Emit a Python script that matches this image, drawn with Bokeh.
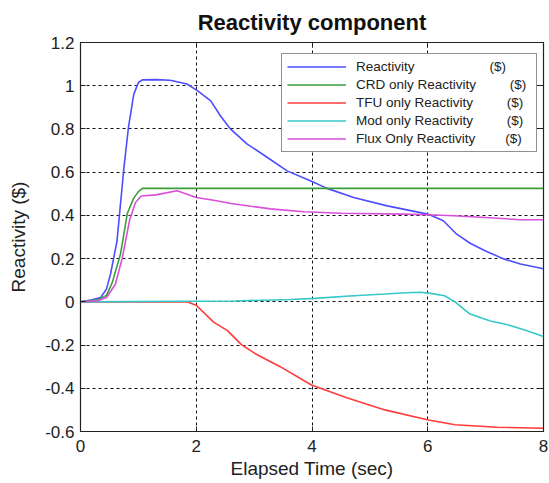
from bokeh.plotting import figure
from bokeh.models import (Range1d, FixedTicker, LinearAxis, Legend, LegendItem,
                          CustomJSTickFormatter)
from bokeh.embed import file_html
from bokeh.resources import INLINE

# ---- data ----
t_react = [0, 0.2, 0.35, 0.45, 0.52, 0.63, 0.75, 0.83, 0.92, 1.0, 1.07, 1.3, 1.55,
           1.84, 2.02, 2.25, 2.42, 2.59, 2.88, 3.23, 3.57, 4.0, 4.26, 4.72, 5.3,
           6.0, 6.27, 6.5, 6.74, 7.0, 7.3, 7.6, 8.0]
reactivity = [0, 0.01, 0.02, 0.06, 0.13, 0.28, 0.62, 0.81, 0.96, 1.015, 1.027, 1.028,
              1.025, 1.008, 0.977, 0.93, 0.86, 0.80, 0.73, 0.668, 0.606, 0.557, 0.525,
              0.483, 0.444, 0.406, 0.375, 0.313, 0.27, 0.235, 0.2, 0.175, 0.153]

t_crd = [0, 0.3, 0.45, 0.55, 0.69, 0.81, 0.92, 1.0, 1.07, 8.0]
crd = [0, 0.01, 0.03, 0.09, 0.22, 0.41, 0.48, 0.51, 0.525, 0.525]

t_tfu = [0, 1.84, 2.0, 2.3, 2.54, 2.78, 3.02, 3.45, 3.99, 4.6, 5.26, 5.99, 6.47, 7.2, 8.0]
tfu = [0, 0, -0.016, -0.094, -0.133, -0.198, -0.24, -0.30, -0.385, -0.444, -0.50,
       -0.546, -0.569, -0.58, -0.585]

t_mod = [0, 2.66, 3.63, 4.05, 4.72, 5.26, 5.63, 5.87, 6.05, 6.29, 6.47, 6.72, 7.08,
         7.38, 7.69, 8.0]
mod = [0, 0.004, 0.011, 0.016, 0.028, 0.036, 0.042, 0.044, 0.039, 0.028, 0.0,
       -0.055, -0.089, -0.106, -0.132, -0.16]

t_flux = [0, 0.3, 0.45, 0.6, 0.72, 0.85, 0.95, 1.05, 1.3, 1.67, 2.0, 2.3, 2.6, 3.28,
          3.86, 4.5, 5.58, 6.0, 6.45, 7.0, 7.6, 8.0]
flux = [0, 0.005, 0.02, 0.08, 0.2, 0.38, 0.46, 0.49, 0.495, 0.514, 0.483, 0.47, 0.455,
        0.43, 0.417, 0.41, 0.406, 0.403, 0.398, 0.39, 0.38, 0.38]

series_names = ["Reactivity", "CRD only Reactivity", "TFU only Reactivity",
                "Mod only Reactivity", "Flux Only Reactivity"]
series_colors = ["#4d4dff", "#3a9e3a", "#ff3b3b", "#36c8c8", "#d94fd9"]
unit_text = "($)"
unit_gap = [20, 9, 9, 9, 8]   # non-breaking spaces between name and unit

x_ticks = [0, 2, 4, 6, 8]
y_ticks = [-0.6, -0.4, -0.2, 0, 0.2, 0.4, 0.6, 0.8, 1.0, 1.2]

FONT = "Liberation Sans"
DARK = "#222222"

p = figure(width=549, height=483, output_backend="svg", toolbar_location=None,
           x_range=Range1d(0, 8), y_range=Range1d(-0.6, 1.2),
           min_border_left=80, min_border_right=6, min_border_top=42,
           min_border_bottom=52, title="Reactivity component")

p.title.text_font = FONT
p.title.text_font_size = "22px"
p.title.text_font_style = "bold"
p.title.align = "center"
p.title.text_color = "#111111"
p.title.standoff = 15

p.outline_line_color = DARK
p.outline_line_width = 1.2
p.background_fill_color = "white"
p.border_fill_color = "white"

p.add_layout(LinearAxis(), "above")
p.add_layout(LinearAxis(), "right")

for ax in p.xaxis + p.yaxis:
    ax.major_label_text_font = FONT
    ax.major_label_text_font_size = "17px"
    ax.major_label_text_color = DARK
    ax.axis_label_text_font = FONT
    ax.axis_label_text_font_size = "19px"
    ax.axis_label_text_font_style = "normal"
    ax.axis_label_text_color = DARK
    ax.major_tick_in = 5
    ax.major_tick_out = 0
    ax.minor_tick_line_color = None
    ax.axis_line_color = DARK
    ax.major_tick_line_color = DARK

for ax in p.xaxis:
    ax.ticker = FixedTicker(ticks=x_ticks)
for ax in p.yaxis:
    ax.ticker = FixedTicker(ticks=y_ticks)
    ax.formatter = CustomJSTickFormatter(code="return String(Math.round(tick*10)/10);")

for ax in (p.above[-1], p.right[-1]):
    ax.major_label_text_color = None
    ax.major_label_standoff = 0
    ax.axis_line_color = None

p.below[0].axis_label = "Elapsed Time (sec)"
p.left[0].axis_label = "Reactivity ($)"
p.below[0].major_label_standoff = 8
p.left[0].major_label_standoff = 6
p.below[0].axis_label_standoff = 3
p.left[0].axis_label_standoff = 13

p.grid.grid_line_color = "#111111"
p.grid.grid_line_dash = "3 3"
p.grid.grid_line_width = 1
p.xgrid.ticker = FixedTicker(ticks=x_ticks)
p.ygrid.ticker = FixedTicker(ticks=y_ticks)

xs = [t_react, t_crd, t_tfu, t_mod, t_flux]
ys = [reactivity, crd, tfu, mod, flux]
renderers = []
for x, y, c in zip(xs, ys, series_colors):
    r = p.line(x, y, line_color=c, line_width=1.6)
    renderers.append(r)

labels = [n + "\u00a0" * g + unit_text for n, g in zip(series_names, unit_gap)]
legend = Legend(items=[LegendItem(label=lab, renderers=[r])
                       for lab, r in zip(labels, renderers)],
                location=(201, 279), orientation="vertical",
                padding=5, margin=0, spacing=3, glyph_width=59, glyph_height=13,
                label_height=13, label_width=175, label_standoff=10,
                label_text_font=FONT, label_text_font_size="13.5px",
                label_text_color=DARK,
                border_line_color=DARK, border_line_width=1.2,
                background_fill_color="white", background_fill_alpha=1.0)
p.add_layout(legend, "center")

open("out.html", "w").write(file_html(p, INLINE))
